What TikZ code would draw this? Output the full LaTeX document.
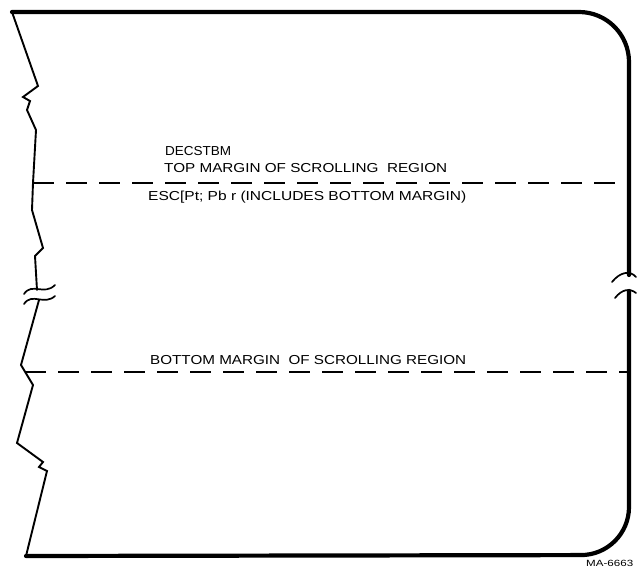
\documentclass[tikz,border=0pt]{standalone}
\usepackage{fontspec}
\setmainfont{Liberation Sans}
\usepackage{graphicx}
\begin{document}
\begin{tikzpicture}[x=1pt,y=-1pt,
  outline/.style={line width=4.2pt, line join=round, line cap=round},
  jag/.style={line width=1.9pt, line join=miter, line cap=round},
  cut/.style={line width=1.7pt, line cap=round},
  margin/.style={line width=1.4pt, dash pattern=on 21pt off 12pt},
  lbl/.style={inner sep=0pt, anchor=base west, font=\fontsize{13}{15}\selectfont}]
\useasboundingbox (0,0) rectangle (637,569);
% outline of the screen
\draw[outline, rounded corners=50pt] (12,12) -- (629,12) -- (629,275);
\draw[outline, rounded corners=48pt] (629,291) -- (629,555) -- (26,556);
% jagged left edge
\draw[jag] (12,12) -- (38,86) -- (23,97) -- (30,101) -- (27,110) -- (36,130)
  -- (33,183) -- (32,210) -- (43,248) -- (35,256) -- (37,290);
\draw[jag] (39,300) -- (21,365) -- (33,385) -- (17,443) -- (43,462) -- (39,467)
  -- (47,471) -- (26,556);
% break marks
\draw[cut] (24,294) .. controls (32,282) and (44,296) .. (55,285);
\draw[cut] (24,304) .. controls (32,292) and (44,306) .. (55,296);
\draw[cut] (612,282) .. controls (620,272) and (630,270) .. (636,277);
\draw[cut] (615,298) .. controls (622,289) and (630,288) .. (636,293);
% margins
\coordinate (tl) at (33,183);
\coordinate (tr) at (627,183);
\coordinate (bl) at (25,372);
\coordinate (br) at (627,372);
\draw[margin] (tl) -- (tr);
\draw[margin] (bl) -- (br);
% labels
\node[lbl] (decstbm) at (165,156) {\resizebox{66pt}{\height}{DECSTBM}};
\node[lbl] (topm) at (164,173) {\resizebox{283pt}{\height}{TOP MARGIN OF SCROLLING\ \ REGION}};
\node[lbl] (esc) at (148,201) {\resizebox{318pt}{\height}{ESC[Pt; Pb r (INCLUDES BOTTOM MARGIN)}};
\node[lbl] (botm) at (150,364) {\resizebox{316pt}{\height}{BOTTOM MARGIN\ \ OF SCROLLING REGION}};
\node[lbl, font=\fontsize{9}{10}\selectfont] (ma) at (586,566) {\resizebox{47pt}{\height}{MA-6663}};
\end{tikzpicture}
\end{document}
